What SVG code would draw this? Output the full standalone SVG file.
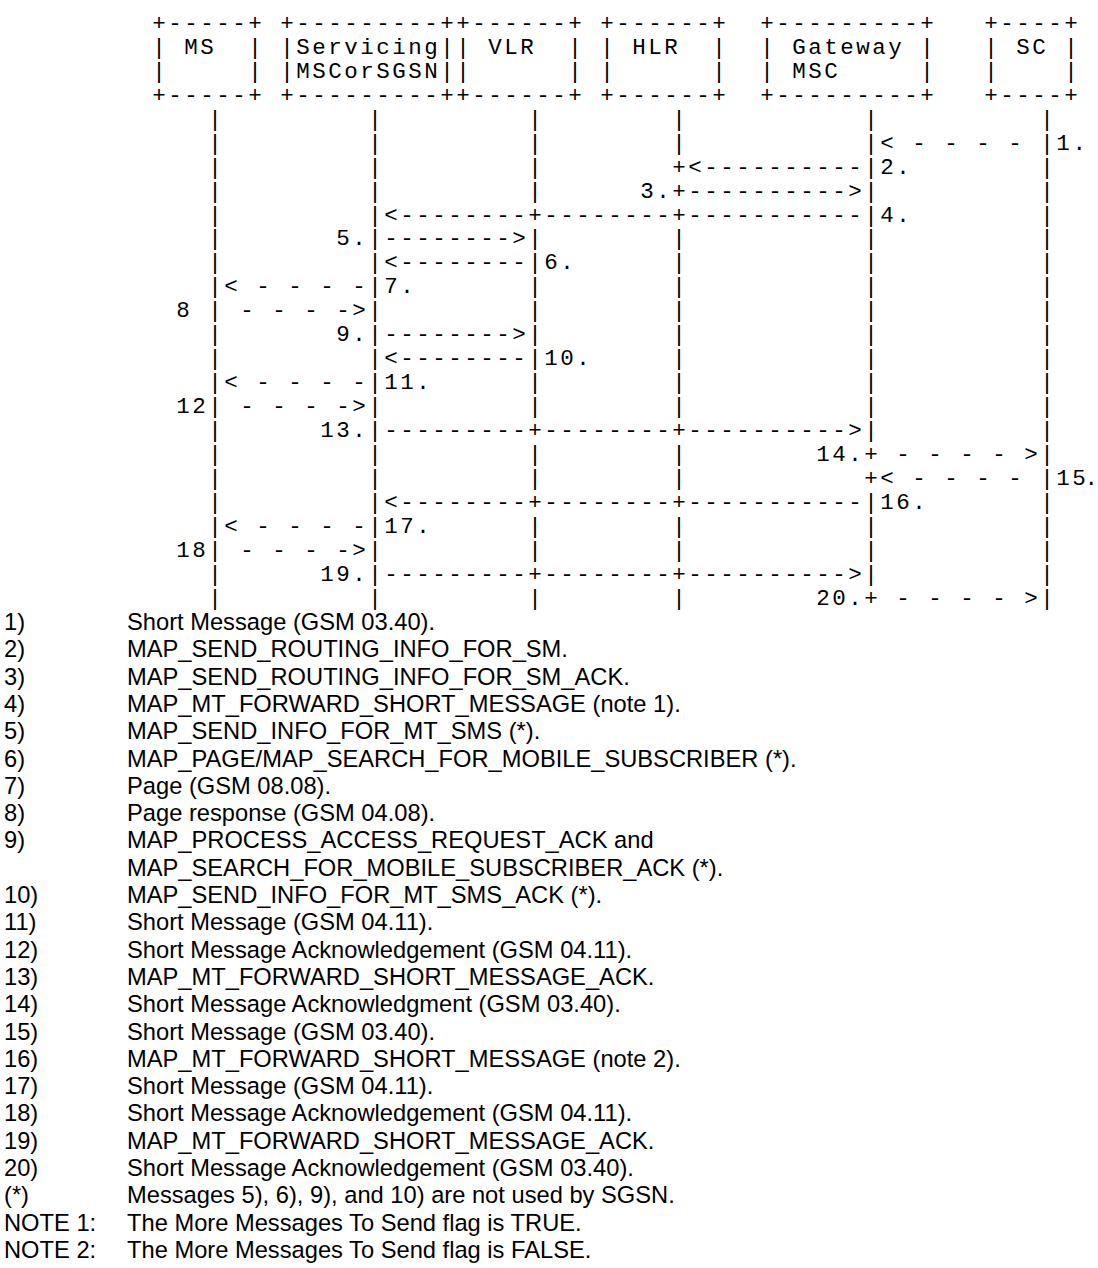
<svg xmlns="http://www.w3.org/2000/svg" width="1098" height="1268" viewBox="0 0 1098 1268">
<style>
  .m { font-family: "Liberation Mono", "Courier New", monospace; font-size: 22.5px; letter-spacing: 2.5px; fill: #000; white-space: pre; }
  .s { font-family: "Liberation Sans", Arial, sans-serif; font-size: 23.7px; fill: #000; white-space: pre; }
</style>
<rect x="0" y="0" width="1098" height="1268" fill="#fff"/>
<g id="nodes" xml:space="preserve">
  <g id="node-ms">
    <text class="m" x="152.25" y="29.8">+-----+</text>
    <text class="m" x="152.25" y="53.8">| MS  |</text>
    <text class="m" x="152.25" y="77.7">|     |</text>
    <text class="m" x="152.25" y="101.7">+-----+</text>
  </g>
  <g id="node-servicing">
    <text class="m" x="280.25" y="29.8">+---------+</text>
    <text class="m" x="280.25" y="53.8">|Servicing|</text>
    <text class="m" x="280.25" y="77.7">|MSCorSGSN|</text>
    <text class="m" x="280.25" y="101.7">+---------+</text>
  </g>
  <g id="node-vlr">
    <text class="m" x="456.25" y="29.8">+------+</text>
    <text class="m" x="456.25" y="53.8">| VLR  |</text>
    <text class="m" x="456.25" y="77.7">|      |</text>
    <text class="m" x="456.25" y="101.7">+------+</text>
  </g>
  <g id="node-hlr">
    <text class="m" x="600.25" y="29.8">+------+</text>
    <text class="m" x="600.25" y="53.8">| HLR  |</text>
    <text class="m" x="600.25" y="77.7">|      |</text>
    <text class="m" x="600.25" y="101.7">+------+</text>
  </g>
  <g id="node-gateway">
    <text class="m" x="760.25" y="29.8">+---------+</text>
    <text class="m" x="760.25" y="53.8">| Gateway |</text>
    <text class="m" x="760.25" y="77.7">| MSC     |</text>
    <text class="m" x="760.25" y="101.7">+---------+</text>
  </g>
  <g id="node-sc">
    <text class="m" x="984.25" y="29.8">+----+</text>
    <text class="m" x="984.25" y="53.8">| SC |</text>
    <text class="m" x="984.25" y="77.7">|    |</text>
    <text class="m" x="984.25" y="101.7">+----+</text>
  </g>
</g>
<g id="connectors" xml:space="preserve">
  <text class="m" x="160.25" y="125.6">   |         |         |        |           |          |</text>
  <text class="m" x="160.25" y="149.6">   |         |         |        |           |&lt; - - - - |1.</text>
  <text class="m" x="160.25" y="173.6">   |         |         |        +&lt;----------|2.        |</text>
  <text class="m" x="160.25" y="197.5">   |         |         |      3.+----------&gt;|          |</text>
  <text class="m" x="160.25" y="221.5">   |         |&lt;--------+--------+-----------|4.        |</text>
  <text class="m" x="160.25" y="245.4">   |       5.|--------&gt;|        |           |          |</text>
  <text class="m" x="160.25" y="269.4">   |         |&lt;--------|6.      |           |          |</text>
  <text class="m" x="160.25" y="293.4">   |&lt; - - - -|7.       |        |           |          |</text>
  <text class="m" x="160.25" y="317.3"> 8 | - - - -&gt;|         |        |           |          |</text>
  <text class="m" x="160.25" y="341.3">   |       9.|--------&gt;|        |           |          |</text>
  <text class="m" x="160.25" y="365.2">   |         |&lt;--------|10.     |           |          |</text>
  <text class="m" x="160.25" y="389.2">   |&lt; - - - -|11.      |        |           |          |</text>
  <text class="m" x="160.25" y="413.2"> 12| - - - -&gt;|         |        |           |          |</text>
  <text class="m" x="160.25" y="437.1">   |      13.|---------+--------+----------&gt;|          |</text>
  <text class="m" x="160.25" y="461.1">   |         |         |        |        14.+ - - - - &gt;|</text>
  <text class="m" x="160.25" y="485.0">   |         |         |        |           +&lt; - - - - |</text>
  <text class="m" x="1056.25 1072.25 1084.5" y="485.0" style="letter-spacing:0">15.</text>
  <text class="m" x="160.25" y="509.0">   |         |&lt;--------+--------+-----------|16.       |</text>
  <text class="m" x="160.25" y="533.0">   |&lt; - - - -|17.      |        |           |          |</text>
  <text class="m" x="160.25" y="556.9"> 18| - - - -&gt;|         |        |           |          |</text>
  <text class="m" x="160.25" y="580.9">   |      19.|---------+--------+----------&gt;|          |</text>
  <text class="m" x="160.25" y="604.8">   |         |         |        |        20.+ - - - - &gt;|</text>
</g>
<g id="legend">
  <text class="s" x="4" y="630">1)</text><text class="s" x="127" y="630">Short Message (GSM 03.40).</text>
  <text class="s" x="4" y="657.3">2)</text><text class="s" x="127" y="657.3">MAP_SEND_ROUTING_INFO_FOR_SM.</text>
  <text class="s" x="4" y="684.6">3)</text><text class="s" x="127" y="684.6">MAP_SEND_ROUTING_INFO_FOR_SM_ACK.</text>
  <text class="s" x="4" y="711.9">4)</text><text class="s" x="127" y="711.9">MAP_MT_FORWARD_SHORT_MESSAGE (note 1).</text>
  <text class="s" x="4" y="739.2">5)</text><text class="s" x="127" y="739.2">MAP_SEND_INFO_FOR_MT_SMS (*).</text>
  <text class="s" x="4" y="766.5">6)</text><text class="s" x="127" y="766.5">MAP_PAGE/MAP_SEARCH_FOR_MOBILE_SUBSCRIBER (*).</text>
  <text class="s" x="4" y="793.8">7)</text><text class="s" x="127" y="793.8">Page (GSM 08.08).</text>
  <text class="s" x="4" y="821.1">8)</text><text class="s" x="127" y="821.1">Page response (GSM 04.08).</text>
  <text class="s" x="4" y="848.4">9)</text><text class="s" x="127" y="848.4">MAP_PROCESS_ACCESS_REQUEST_ACK and</text>
  <text class="s" x="127" y="875.7">MAP_SEARCH_FOR_MOBILE_SUBSCRIBER_ACK (*).</text>
  <text class="s" x="4" y="903">10)</text><text class="s" x="127" y="903">MAP_SEND_INFO_FOR_MT_SMS_ACK (*).</text>
  <text class="s" x="4" y="930.3">11)</text><text class="s" x="127" y="930.3">Short Message (GSM 04.11).</text>
  <text class="s" x="4" y="957.6">12)</text><text class="s" x="127" y="957.6">Short Message Acknowledgement (GSM 04.11).</text>
  <text class="s" x="4" y="984.9">13)</text><text class="s" x="127" y="984.9">MAP_MT_FORWARD_SHORT_MESSAGE_ACK.</text>
  <text class="s" x="4" y="1012.2">14)</text><text class="s" x="127" y="1012.2">Short Message Acknowledgment (GSM 03.40).</text>
  <text class="s" x="4" y="1039.5">15)</text><text class="s" x="127" y="1039.5">Short Message (GSM 03.40).</text>
  <text class="s" x="4" y="1066.8">16)</text><text class="s" x="127" y="1066.8">MAP_MT_FORWARD_SHORT_MESSAGE (note 2).</text>
  <text class="s" x="4" y="1094.1">17)</text><text class="s" x="127" y="1094.1">Short Message (GSM 04.11).</text>
  <text class="s" x="4" y="1121.4">18)</text><text class="s" x="127" y="1121.4">Short Message Acknowledgement (GSM 04.11).</text>
  <text class="s" x="4" y="1148.7">19)</text><text class="s" x="127" y="1148.7">MAP_MT_FORWARD_SHORT_MESSAGE_ACK.</text>
  <text class="s" x="4" y="1176">20)</text><text class="s" x="127" y="1176">Short Message Acknowledgement (GSM 03.40).</text>
  <text class="s" x="4" y="1203.3">(*)</text><text class="s" x="127" y="1203.3">Messages 5), 6), 9), and 10) are not used by SGSN.</text>
  <text class="s" x="4" y="1230.6">NOTE 1:</text><text class="s" x="127" y="1230.6">The More Messages To Send flag is TRUE.</text>
  <text class="s" x="4" y="1257.9">NOTE 2:</text><text class="s" x="127" y="1257.9">The More Messages To Send flag is FALSE.</text>
</g>
</svg>
